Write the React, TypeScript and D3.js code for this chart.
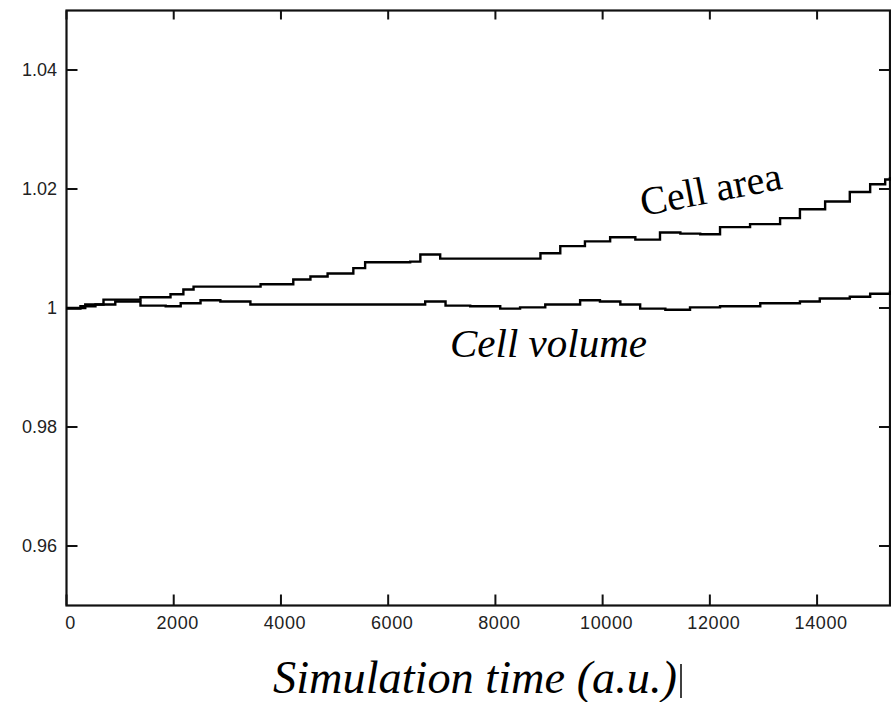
import React from "react";
import * as d3 from "d3";

// ---- data ----
const areaTimes = [0, 350, 690, 1380, 1940, 2180, 2370, 3240, 3620, 4230, 4550, 4870, 5350, 5570, 6410, 6600, 6970, 8520, 8840, 9210, 9670, 10140, 10610, 11070, 11450, 11820, 12190, 12750, 13310, 13680, 14150, 14610, 14990, 15270, 15360];
const areaValues = [1.0, 1.0006, 1.0014, 1.0018, 1.0023, 1.0031, 1.0036, 1.0036, 1.004, 1.0048, 1.0053, 1.0058, 1.0067, 1.0077, 1.0078, 1.009, 1.0083, 1.0083, 1.0092, 1.0104, 1.0112, 1.0119, 1.0115, 1.0127, 1.0125, 1.0124, 1.0136, 1.0141, 1.0151, 1.0166, 1.0179, 1.0195, 1.0208, 1.0216, 1.022];
const volumeTimes = [0, 260, 540, 910, 1380, 1850, 2130, 2500, 2870, 3430, 4360, 5290, 6230, 6690, 7070, 7530, 8090, 8460, 8930, 9580, 9950, 10330, 10700, 11170, 11630, 12190, 12940, 13680, 14050, 14610, 14990, 15360];
const volumeValues = [0.9999, 1.0003, 1.0006, 1.0011, 1.0004, 1.0003, 1.0008, 1.0013, 1.0011, 1.0006, 1.0006, 1.0006, 1.0006, 1.0011, 1.0004, 1.0003, 0.9999, 1.0001, 1.0006, 1.0013, 1.0011, 1.0006, 0.9999, 0.9997, 1.0001, 1.0003, 1.0008, 1.0011, 1.0016, 1.0019, 1.0024, 1.0029];
const xTicks = [0, 2000, 4000, 6000, 8000, 10000, 12000, 14000];
const yTicks = [0.96, 0.98, 1, 1.02, 1.04];
const yTickLabels = ["0.96", "0.98", "1", "1.02", "1.04"];
const xDomain = [0, 15360];
const yDomain = [0.95, 1.05];
const xTitle = "Simulation time (a.u.)";
const areaLabel = "Cell area";
const volumeLabel = "Cell volume";

const W = 891;
const H = 702;
const L = 66.5, R = 890, T = 10.5, B = 605.5;

export default function App() {
  const x = d3.scaleLinear().domain(xDomain).range([L, R]);
  const y = d3.scaleLinear().domain(yDomain).range([B, T]);
  const line = d3
    .line<[number, number]>()
    .x((d) => x(d[0]))
    .y((d) => y(d[1]))
    .curve(d3.curveStepAfter);
  const areaPath = line(areaTimes.map((t, i) => [t, areaValues[i]]) as [number, number][]) || "";
  const volPath = line(volumeTimes.map((t, i) => [t, volumeValues[i]]) as [number, number][]) || "";
  const axisColor = "#111";
  const tickFont = "'Liberation Sans', Arial, sans-serif";
  const serif = "'Liberation Serif', 'Times New Roman', serif";

  return (
    <svg
      width={W}
      height={H}
      viewBox={`0 0 ${W} ${H}`}
      style={{ position: "absolute", left: 0, top: 0, background: "#fff" }}
    >
      <rect x={0} y={0} width={W} height={H} fill="#fff" />
      {/* frame */}
      <rect x={L} y={T} width={R - L} height={B - T} fill="none" stroke={axisColor} strokeWidth={2.2} />
      {/* x ticks */}
      {xTicks.map((t) => (
        <g key={"xt" + t}>
          <line x1={x(t)} x2={x(t)} y1={B} y2={B - 11} stroke={axisColor} strokeWidth={2} />
          <line x1={x(t)} x2={x(t)} y1={T} y2={T + 9} stroke={axisColor} strokeWidth={2} />
          <text
            x={x(t) + 4}
            y={629}
            textAnchor="middle"
            fontFamily={tickFont}
            fontSize={18}
            letterSpacing={0.6}
            fill="#222"
          >
            {String(t)}
          </text>
        </g>
      ))}
      {/* y ticks */}
      {yTicks.map((v, i) => (
        <g key={"yt" + v}>
          <line x1={L} x2={L + 11} y1={y(v)} y2={y(v)} stroke={axisColor} strokeWidth={2} />
          <line x1={R} x2={R - 11} y1={y(v)} y2={y(v)} stroke={axisColor} strokeWidth={2} />
          <text
            x={57}
            y={y(v) + 6}
            textAnchor="end"
            fontFamily={tickFont}
            fontSize={18}
            fill="#222"
          >
            {yTickLabels[i]}
          </text>
        </g>
      ))}
      {/* series */}
      <path d={areaPath} fill="none" stroke="#000" strokeWidth={2.4} />
      <path d={volPath} fill="none" stroke="#000" strokeWidth={2.4} />
      {/* labels */}
      <text
        transform="translate(643,216) rotate(-11)"
        fontFamily={serif}
        fontSize={40}
        fill="#000"
      >
        {areaLabel}
      </text>
      <text x={450} y={357} fontFamily={serif} fontStyle="italic" fontSize={41} fill="#000">
        {volumeLabel}
      </text>
      <text
        x={273}
        y={693}
        fontFamily={serif}
        fontStyle="italic"
        fontSize={46}
        fill="#000"
        textLength={404}
        lengthAdjust="spacingAndGlyphs"
      >
        {xTitle}
      </text>
      <line x1={681} x2={681} y1={664} y2={698} stroke="#000" strokeWidth={1.5} />
    </svg>
  );
}
